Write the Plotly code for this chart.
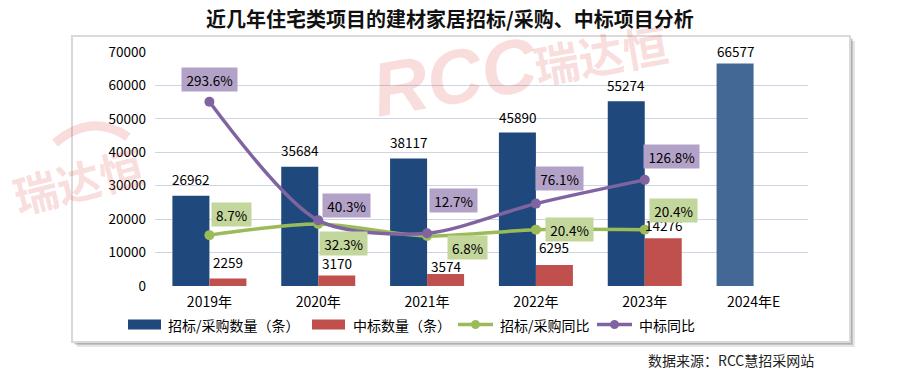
import plotly.graph_objects as go

# ---------------- data ----------------
years = ["2019年", "2020年", "2021年", "2022年", "2023年", "2024年E"]
bid_counts = [26962, 35684, 38117, 45890, 55274, 66577]          # 招标/采购数量（条）
win_counts = [2259, 3170, 3574, 6295, 14276, None]               # 中标数量（条）
bid_yoy = [8.7, 32.3, 6.8, 20.4, 20.4]                           # 招标/采购同比 (%)
win_yoy = [293.6, 40.3, 12.7, 76.1, 126.8]                       # 中标同比 (%)
y_ticks = [0, 10000, 20000, 30000, 40000, 50000, 60000, 70000]

# ---------------- styles ----------------
FONT = "Noto Sans CJK SC"
BLUE = "#1F497D"
BLUE_E = "#436895"
RED = "#C0504D"
GREEN = "#9BBB59"
PURPLE = "#8064A2"
GREEN_BOX = "#C3D69B"
PURPLE_BOX = "#B3A2C7"
GRID = "#CDD4E4"

# label offsets in pixels (dx, dy up)
blue_lbl_dy = [17, 17, 17, 16, 16, 12]
red_lbl_dy = [16, 12, 8, 18, 13]
win_lbl_off = [(0, 22), (28, 15), (26, 33), (24, 25), (27, 23)]
bid_lbl_off = [(22, 21), (25, -19), (40, -11), (34, 0), (29, 19)]

# page offset (browser body margin) and plot geometry in figure pixels
OFF = 8
FIG_W, FIG_H = 900 - OFF, 375 - OFF
L, T, W, H = 155 - OFF, 52 - OFF, 653, 234


def px(x):
    """page x pixel -> paper coordinate"""
    return (x - OFF - L) / W


def py(y):
    """page y pixel -> paper coordinate"""
    return (T + H - (y - OFF)) / H


xs = list(range(len(years)))
BAR_OFF = 0.17

fig = go.Figure()
fig.add_trace(go.Bar(
    x=xs, y=bid_counts, name="招标/采购数量（条）",
    marker=dict(color=[BLUE] * 5 + [BLUE_E], line=dict(width=0)),
    showlegend=False,
))
fig.add_trace(go.Bar(
    x=xs, y=win_counts, name="中标数量（条）",
    marker=dict(color=RED, line=dict(width=0)),
    showlegend=False,
))
fig.add_trace(go.Scatter(
    x=xs[:len(bid_yoy)], y=bid_yoy, yaxis="y2", name="招标/采购同比",
    mode="lines+markers", line=dict(color=GREEN, width=3.5, shape="spline", smoothing=0.8),
    marker=dict(size=10, color=GREEN), showlegend=False,
))
fig.add_trace(go.Scatter(
    x=xs[:len(win_yoy)], y=win_yoy, yaxis="y2", name="中标同比",
    mode="lines+markers", line=dict(color=PURPLE, width=3.5, shape="spline", smoothing=0.8),
    marker=dict(size=10, color=PURPLE), showlegend=False,
))

annotations = []
shapes = []

# frame with shadow
for off, op in [(5, 0.10), (3, 0.15), (1.5, 0.2)]:
    shapes.append(dict(type="rect", xref="paper", yref="paper", layer="below",
                       x0=px(72 + off), x1=px(850 + off), y0=py(342 + off), y1=py(36 + off),
                       fillcolor=f"rgba(0,0,0,{op})", line=dict(width=0)))
shapes.append(dict(type="rect", xref="paper", yref="paper", layer="below",
                   x0=px(72), x1=px(850), y0=py(342), y1=py(36),
                   fillcolor="white", line=dict(color="#D9D9D9", width=2)))

# watermark (drawn first so data labels sit above it)
WM = "rgba(220,50,50,0.17)"
annotations.append(dict(x=px(455), y=py(77), xref="paper", yref="paper",
                        xanchor="center", yanchor="middle",
                        text="<b><i>RCC</i></b>", showarrow=False, textangle=-10,
                        font=dict(family="Liberation Sans", size=76, color=WM)))
annotations.append(dict(x=px(600), y=py(53), xref="paper", yref="paper",
                        xanchor="center", yanchor="middle",
                        text="<b>瑞达恒</b>", showarrow=False, textangle=-10,
                        font=dict(family=FONT, size=45, color=WM)))
annotations.append(dict(x=px(78), y=py(180), xref="paper", yref="paper",
                        xanchor="center", yanchor="middle",
                        text="<b>瑞达恒</b>", showarrow=False, textangle=-14,
                        font=dict(family=FONT, size=44, color=WM)))
ax0, ay0 = px(55), py(143)
axm, aym = px(92), py(112)
ax1, ay1 = px(128), py(137)
shapes.append(dict(type="path", xref="paper", yref="paper", layer="above",
                   path=f"M {ax0},{ay0} Q {axm},{aym} {ax1},{ay1}",
                   line=dict(color=WM, width=9)))

# bar value labels
for i, v in enumerate(bid_counts):
    annotations.append(dict(x=i - BAR_OFF, y=v, xref="x", yref="y", text=str(v),
                            showarrow=False, xanchor="center", yanchor="middle",
                            yshift=blue_lbl_dy[i],
                            font=dict(family=FONT, size=13.5, color="#000000")))
for i, v in enumerate(win_counts):
    if v is None:
        continue
    annotations.append(dict(x=i + BAR_OFF, y=v, xref="x", yref="y", text=str(v),
                            showarrow=False, xanchor="center", yanchor="middle",
                            yshift=red_lbl_dy[i],
                            font=dict(family=FONT, size=13.5, color="#000000")))


# line labels
def box_w(t):
    return 8 * len(t) + 7


for i, v in enumerate(win_yoy):
    t = f"{v:.1f}%"
    dx, dy = win_lbl_off[i]
    annotations.append(dict(x=i, y=v, xref="x", yref="y2", text=t, showarrow=False,
                            xanchor="center", yanchor="middle",
                            xshift=dx, yshift=dy, bgcolor=PURPLE_BOX, borderpad=0,
                            width=box_w(t), height=23, valign="middle",
                            font=dict(family=FONT, size=13.5, color="#000000")))
for i, v in enumerate(bid_yoy):
    t = f"{v:.1f}%"
    dx, dy = bid_lbl_off[i]
    annotations.append(dict(x=i, y=v, xref="x", yref="y2", text=t, showarrow=False,
                            xanchor="center", yanchor="middle",
                            xshift=dx, yshift=dy, bgcolor=GREEN_BOX, borderpad=0,
                            width=box_w(t), height=23, valign="middle",
                            font=dict(family=FONT, size=13.5, color="#000000")))

# title
annotations.append(dict(x=px(450), y=py(18), xref="paper", yref="paper",
                        text="<b>近几年住宅类项目的建材家居招标/采购、中标项目分析</b>",
                        showarrow=False, xanchor="center", yanchor="middle",
                        font=dict(family=FONT, size=20, color="#111111")))
# source
annotations.append(dict(x=px(816), y=py(360), xref="paper", yref="paper",
                        text="数据来源：RCC慧招采网站", showarrow=False,
                        xanchor="right", yanchor="middle",
                        font=dict(family=FONT, size=14, color="#222222")))

# custom legend
LY = 324.5
legend_items = [
    ("rect", BLUE, 128, 161, 166, "招标/采购数量（条）"),
    ("rect", RED, 312, 345, 351, "中标数量（条）"),
    ("line", GREEN, 458, 493, 498, "招标/采购同比"),
    ("line", PURPLE, 597, 632, 637, "中标同比"),
]
for kind, col, x0, x1, tx, label in legend_items:
    if kind == "rect":
        shapes.append(dict(type="rect", xref="paper", yref="paper",
                           x0=px(x0), x1=px(x1), y0=py(LY + 5), y1=py(LY - 5),
                           fillcolor=col, line=dict(width=0)))
    else:
        shapes.append(dict(type="line", xref="paper", yref="paper",
                           x0=px(x0), x1=px(x1), y0=py(LY), y1=py(LY),
                           line=dict(color=col, width=3.5)))
        cx = (x0 + x1) / 2
        shapes.append(dict(type="circle", xref="paper", yref="paper",
                           x0=px(cx - 4.5), x1=px(cx + 4.5), y0=py(LY + 4.5), y1=py(LY - 4.5),
                           fillcolor=col, line=dict(width=0)))
    annotations.append(dict(x=px(tx), y=py(LY), xref="paper", yref="paper", text=label,
                            showarrow=False, xanchor="left", yanchor="middle",
                            font=dict(family=FONT, size=14, color="#000000")))

fig.update_layout(
    width=FIG_W, height=FIG_H,
    margin=dict(l=L, r=FIG_W - L - W, t=T, b=FIG_H - T - H),
    paper_bgcolor="white", plot_bgcolor="rgba(0,0,0,0)",
    barmode="group", bargap=0.32, bargroupgap=0,
    font=dict(family=FONT, size=13.5, color="#000000"),
    xaxis=dict(range=[-0.5, len(years) - 0.5], tickmode="array", tickvals=xs, ticktext=years,
               showgrid=False, zeroline=False, showline=False, ticks="",
               ticklabelstandoff=6, tickfont=dict(family=FONT, size=14, color="#000000")),
    yaxis=dict(range=[0, 70000], tickmode="array", tickvals=y_ticks,
               ticktext=[str(v) for v in y_ticks],
               showgrid=True, gridcolor=GRID, gridwidth=1, zeroline=False, showline=False,
               ticks="", ticklabelstandoff=8, tickfont=dict(family=FONT, size=13.5, color="#000000")),
    yaxis2=dict(range=[-100, 400], overlaying="y", side="right", visible=False,
                showgrid=False, zeroline=False),
    annotations=annotations,
    shapes=shapes,
    showlegend=False,
)

fig.write_html("out.html")
